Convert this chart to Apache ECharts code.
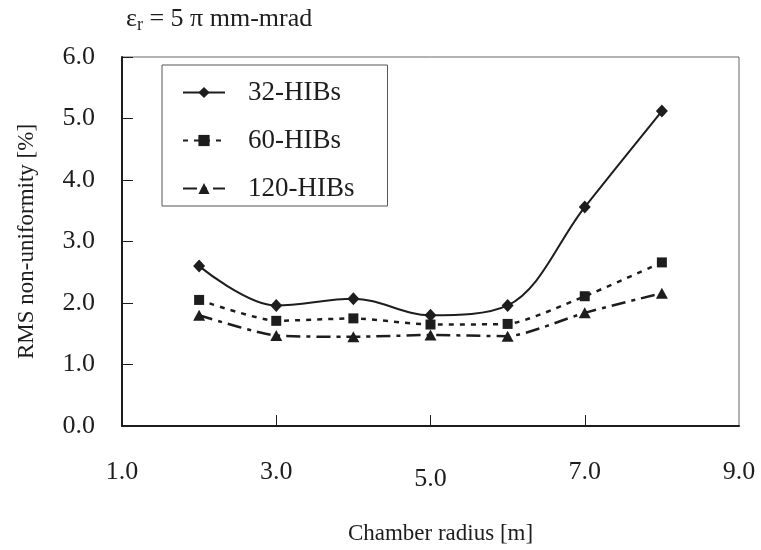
<!DOCTYPE html>
<html>
<head>
<meta charset="utf-8">
<script src="https://cdn.jsdelivr.net/npm/echarts@6/dist/echarts.min.js"></script>
<style>html,body{margin:0;padding:0;background:#fff}#c{width:761px;height:550px}</style>
</head>
<body>
<div id="c"></div>
<script>
const radius = [2, 3, 4, 5, 6, 7, 8];
const hib32 = [2.60, 1.96, 2.07, 1.80, 1.96, 3.56, 5.12];
const hib60 = [2.05, 1.71, 1.75, 1.65, 1.66, 2.11, 2.66];
const hib120 = [1.80, 1.47, 1.45, 1.48, 1.46, 1.84, 2.16];
const xTicks = [1, 3, 5, 7, 9];
const xInnerTicks = [3, 5, 7];
const seriesNames = ['32-HIBs', '60-HIBs', '120-HIBs'];

const FONT = 'Liberation Serif';
const INK = '#1d1d1d';
const pairs = arr => radius.map((x, i) => [x, arr[i]]);

const chart = echarts.init(document.getElementById('c'), null, {renderer: 'canvas'});
chart.setOption({
  animation: false,
  backgroundColor: '#fff',
  title: {
    text: '{e|ε}{s|r}{n| = 5 π mm-mrad}',
    left: 121, top: 0,
    textStyle: {
      fontFamily: FONT, fontWeight: 'normal', color: INK,
      rich: {
        e: {fontFamily: FONT, fontSize: 26, color: INK},
        s: {fontFamily: FONT, fontSize: 18, color: INK, padding: [11, 0, 0, 0]},
        n: {fontFamily: FONT, fontSize: 26, color: INK}
      }
    }
  },
  grid: {left: 122, right: 22, top: 57, bottom: 123, show: true, borderColor: '#666', borderWidth: 1, containLabel: false},
  legend: {
    orient: 'vertical', left: 162, top: 65,
    data: seriesNames,
    backgroundColor: '#fff',
    borderColor: '#555', borderWidth: 1,
    padding: [14, 33, 4, 20],
    itemGap: 21,
    itemWidth: 42, itemHeight: 14,
    textStyle: {fontFamily: FONT, fontSize: 27, color: INK, lineHeight: 26, padding: [0, 0, 0, 18]}
  },
  xAxis: {
    type: 'value', min: 1, max: 9,
    name: 'Chamber radius [m]', nameLocation: 'middle', nameGap: 96,
    nameTextStyle: {fontFamily: FONT, fontSize: 23, color: INK, padding: [0, 0, 0, 20]},
    axisLine: {show: true, onZero: false, lineStyle: {color: INK, width: 2}},
    axisTick: {show: true, inside: true, length: 11, customValues: xInnerTicks, lineStyle: {color: INK, width: 1}},
    axisLabel: {
      customValues: xTicks, margin: 33,
      fontFamily: FONT, fontSize: 26, color: INK,
      formatter: v => v === 5 ? '{d|' + v.toFixed(1) + '}' : v.toFixed(1),
      rich: {d: {fontFamily: FONT, fontSize: 26, color: INK, padding: [7, 0, 0, 0]}}
    },
    splitLine: {show: false}
  },
  yAxis: {
    type: 'value', min: 0, max: 6, interval: 1,
    name: 'RMS non-uniformity [%]', nameLocation: 'middle', nameGap: 84, nameRotate: 90,
    nameTextStyle: {fontFamily: FONT, fontSize: 23, color: INK},
    axisLine: {show: true, lineStyle: {color: INK, width: 2}},
    axisTick: {show: true, inside: true, length: 11, lineStyle: {color: INK, width: 1}},
    axisLabel: {margin: 27, fontFamily: FONT, fontSize: 26, color: INK, formatter: v => v.toFixed(1)},
    splitLine: {show: false}
  },
  series: [
    {
      name: seriesNames[0], type: 'line', data: pairs(hib32), smooth: 0.35,
      symbol: 'diamond', symbolSize: [12, 13],
      lineStyle: {color: INK, width: 2, type: 'solid'},
      itemStyle: {color: INK}
    },
    {
      name: seriesNames[1], type: 'line', data: pairs(hib60), smooth: 0.2,
      symbol: 'rect', symbolSize: 10,
      lineStyle: {color: INK, width: 2.5, type: [5, 6]},
      itemStyle: {color: INK}
    },
    {
      name: seriesNames[2], type: 'line', data: pairs(hib120), smooth: 0.2,
      symbol: 'triangle', symbolSize: [12, 11],
      lineStyle: {color: INK, width: 2.5, type: [14, 6, 4, 6]},
      itemStyle: {color: INK}
    }
  ]
});
</script>
</body>
</html>
